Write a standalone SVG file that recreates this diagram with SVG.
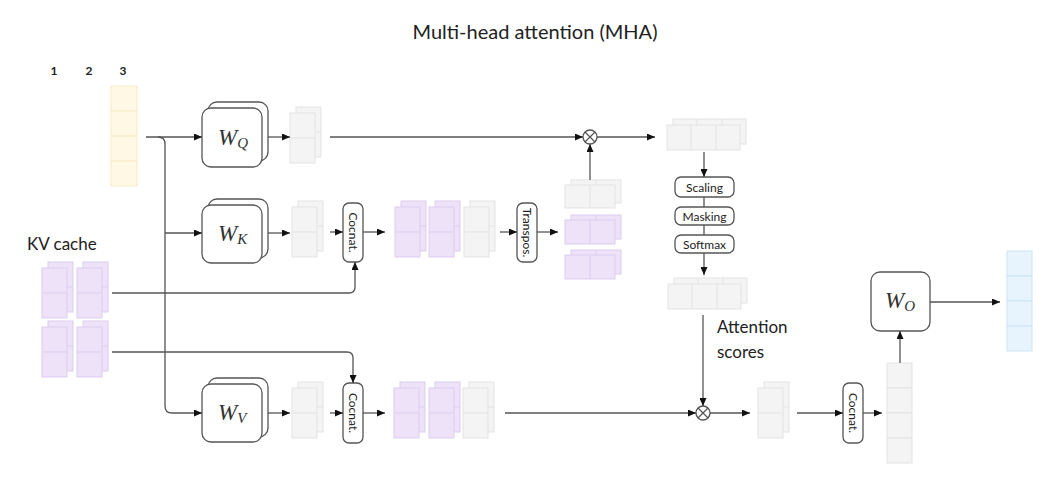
<svg xmlns="http://www.w3.org/2000/svg" xmlns:xlink="http://www.w3.org/1999/xlink" width="1063" height="490" viewBox="0 0 1063 490">
<style>
.g{fill:#f4f4f4;stroke:#e3e3e3;stroke-width:1}
.p{fill:#ede2f8;stroke:#dccdef;stroke-width:1}
.b{fill:#e7f3fd;stroke:#cde4f7;stroke-width:1}
.y{fill:#fff8e4;stroke:#f7ebc6;stroke-width:1}
.box{fill:#fff;stroke:#555;stroke-width:1.3}
.c{fill:none;stroke:#555;stroke-width:1.3}
.ca{fill:none;stroke:#555;stroke-width:1.3;marker-end:url(#ah)}
.t{font-family:Lato,"Open Sans",sans-serif;fill:#222}
.m{font-family:"Liberation Serif",serif;font-style:italic;fill:#333}
.s{font-family:Lato,"Open Sans",sans-serif;font-size:12px;fill:#222;text-anchor:middle}
</style>
<defs>
<marker id="ah" markerWidth="8" markerHeight="7" refX="8" refY="3.5" orient="auto" markerUnits="userSpaceOnUse"><path d="M0,0 L8,3.5 L0,7 z" fill="#111"/></marker>
<g id="gv2"><rect class="g" x="6" y="-6" width="25" height="50"/><line class="g" x1="6" y1="19" x2="31" y2="19"/><rect class="g" x="0" y="0" width="25" height="50"/><line class="g" x1="0" y1="25" x2="25" y2="25"/></g>
<g id="pv2"><rect class="p" x="6" y="-6" width="25" height="50"/><line class="p" x1="6" y1="19" x2="31" y2="19"/><rect class="p" x="0" y="0" width="25" height="50"/><line class="p" x1="0" y1="25" x2="25" y2="25"/></g>
<g id="gh2"><rect class="g" x="6" y="-5" width="50" height="23"/><line class="g" x1="31" y1="-5" x2="31" y2="18"/><rect class="g" x="0" y="0" width="50" height="23"/><line class="g" x1="25" y1="0" x2="25" y2="23"/></g>
<g id="ph2"><rect class="p" x="6" y="-5" width="50" height="24"/><line class="p" x1="31" y1="-5" x2="31" y2="19"/><rect class="p" x="0" y="0" width="50" height="24"/><line class="p" x1="25" y1="0" x2="25" y2="24"/></g>
<g id="gh3"><rect class="g" x="6" y="-6" width="73" height="25"/><line class="g" x1="30" y1="-6" x2="30" y2="19"/><line class="g" x1="55" y1="-6" x2="55" y2="19"/><rect class="g" x="0" y="0" width="73" height="25"/><line class="g" x1="24" y1="0" x2="24" y2="25"/><line class="g" x1="49" y1="0" x2="49" y2="25"/></g>
</defs>

<text class="t" x="535" y="39" font-size="20" text-anchor="middle">Multi-head attention (MHA)</text>

<g id="tokens">
<text class="t" x="54" y="75" font-size="12" font-weight="bold" text-anchor="middle">1</text>
<text class="t" x="89" y="75" font-size="12" font-weight="bold" text-anchor="middle">2</text>
<text class="t" x="123" y="75" font-size="12" font-weight="bold" text-anchor="middle">3</text>
</g>

<g id="input">
<rect class="y" x="111" y="86" width="26" height="25"/><rect class="y" x="111" y="111" width="26" height="25"/><rect class="y" x="111" y="136" width="26" height="25"/><rect class="y" x="111" y="161" width="26" height="25"/>
</g>

<g id="kvcache">
<text class="t" x="27" y="250" font-size="17">KV cache</text>
<use href="#pv2" x="42" y="268"/><use href="#pv2" x="77" y="268"/>
<use href="#pv2" x="42" y="327"/><use href="#pv2" x="77" y="327"/>
</g>

<g id="wq">
<rect class="box" x="208" y="102" width="60" height="59" rx="9"/>
<rect class="box" x="202" y="108" width="60" height="59" rx="9"/>
<text class="m" x="218" y="145" font-size="23">W<tspan font-size="15" dy="3">Q</tspan></text>
</g>
<g id="wk">
<rect class="box" x="208" y="199" width="60" height="59" rx="9"/>
<rect class="box" x="202" y="205" width="60" height="58" rx="9"/>
<text class="m" x="218" y="241" font-size="23">W<tspan font-size="15" dy="3">K</tspan></text>
</g>
<g id="wv">
<rect class="box" x="208" y="378" width="60" height="59" rx="9"/>
<rect class="box" x="202" y="384" width="60" height="58" rx="9"/>
<text class="m" x="218" y="420" font-size="23">W<tspan font-size="15" dy="3">V</tspan></text>
</g>
<g id="wo">
<rect class="box" x="871" y="272" width="59" height="59" rx="9"/>
<text class="m" x="885" y="308" font-size="23">W<tspan font-size="15" dy="3">O</tspan></text>
</g>

<g id="q-out"><use href="#gv2" x="290" y="113"/></g>
<g id="k-out"><use href="#gv2" x="292" y="207"/></g>
<g id="k-concat"><use href="#pv2" x="395" y="207"/><use href="#pv2" x="429" y="207"/><use href="#gv2" x="464" y="207"/></g>
<g id="k-transposed"><use href="#gh2" x="565" y="185"/><use href="#ph2" x="565" y="220"/><use href="#ph2" x="565" y="255"/></g>
<g id="qk"><use href="#gh3" x="667" y="125"/></g>
<g id="attn"><use href="#gh3" x="668" y="284"/>
<text class="t" x="717" y="333" font-size="17">Attention</text>
<text class="t" x="717" y="358" font-size="17">scores</text>
</g>
<g id="v-out"><use href="#gv2" x="292" y="388"/></g>
<g id="v-concat"><use href="#pv2" x="394" y="388"/><use href="#pv2" x="429" y="388"/><use href="#gv2" x="463" y="388"/></g>
<g id="ctx"><use href="#gv2" x="758" y="388"/></g>
<g id="ctx-concat">
<rect class="g" x="887" y="363" width="25" height="25"/><rect class="g" x="887" y="388" width="25" height="25"/><rect class="g" x="887" y="413" width="25" height="25"/><rect class="g" x="887" y="438" width="25" height="25"/>
</g>
<g id="output">
<rect class="b" x="1007" y="251" width="25" height="25"/><rect class="b" x="1007" y="276" width="25" height="25"/><rect class="b" x="1007" y="301" width="25" height="25"/><rect class="b" x="1007" y="326" width="25" height="25"/>
</g>

<g id="concat-k">
<rect class="box" x="343" y="203" width="20" height="59" rx="6"/>
<text class="s" transform="translate(348.8,232.5) rotate(90)">Cocnat.</text>
</g>
<g id="concat-v">
<rect class="box" x="343" y="383" width="20" height="60" rx="6"/>
<text class="s" transform="translate(348.8,413) rotate(90)">Cocnat.</text>
</g>
<g id="concat-o">
<rect class="box" x="843" y="383" width="20" height="60" rx="6"/>
<text class="s" transform="translate(848.8,413) rotate(90)">Cocnat.</text>
</g>
<g id="transpose">
<rect class="box" x="517" y="203" width="20" height="59" rx="6"/>
<text class="s" transform="translate(522.8,232.5) rotate(90)">Transpos.</text>
</g>
<g id="scaling">
<rect class="box" x="675" y="177" width="59" height="20" rx="6"/>
<text class="s" x="704.5" y="191.5">Scaling</text>
</g>
<g id="masking">
<rect class="box" x="675" y="207" width="59" height="18" rx="6"/>
<text class="s" x="704.5" y="220.5">Masking</text>
</g>
<g id="softmax">
<rect class="box" x="675" y="235" width="59" height="18" rx="6"/>
<text class="s" x="704.5" y="248.5">Softmax</text>
</g>

<g id="mul1">
<circle class="box" cx="590" cy="137" r="7"/>
<path class="c" d="M585,132 L595,142 M595,132 L585,142"/>
</g>
<g id="mul2">
<circle class="box" cx="703" cy="413" r="7"/>
<path class="c" d="M698,408 L708,418 M708,408 L698,418"/>
</g>

<g id="connectors">
<path class="ca" d="M146,137 H202"/>
<path class="ca" d="M158,137 Q165,137 165,144 V406 Q165,413 172,413 H202"/>
<path class="ca" d="M165,233 H202"/>
<path class="ca" d="M268,137 H290"/>
<path class="ca" d="M330,137 H583"/>
<path class="ca" d="M597,137 H655"/>
<path class="ca" d="M590,180 V144"/>
<path class="ca" d="M268,233 H290"/>
<path class="ca" d="M330,232 H343"/>
<path class="ca" d="M363,232 H385"/>
<path class="ca" d="M500,232 H517"/>
<path class="ca" d="M537,232 H558"/>
<path class="ca" d="M112,293 H349 Q355,293 355,287 V262"/>
<path class="ca" d="M112,352 H347 Q353,352 353,358 V383"/>
<path class="ca" d="M268,413 H290"/>
<path class="ca" d="M330,413 H343"/>
<path class="ca" d="M363,413 H385"/>
<path class="ca" d="M505,413 H696"/>
<path class="ca" d="M710,413 H750"/>
<path class="ca" d="M797,413 H843"/>
<path class="ca" d="M863,413 H882"/>
<path class="ca" d="M703,315 V406"/>
<path class="ca" d="M704,152 V177"/>
<path class="c" d="M704,197 V207 M704,225 V235"/>
<path class="ca" d="M704,253 V275"/>
<path class="ca" d="M900,363 V331"/>
<path class="ca" d="M930,302 H1000"/>
</g>
</svg>
